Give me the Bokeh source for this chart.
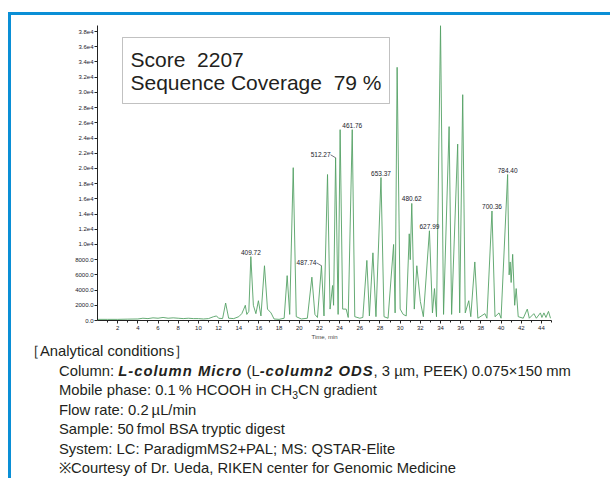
from bokeh.plotting import figure
from bokeh.layouts import column
from bokeh.models import Label, BoxAnnotation, FixedTicker, Range1d, Div
from bokeh.core.properties import value
from bokeh.embed import file_html
from bokeh.resources import INLINE

# ---- chromatogram trace (retention time, intensity) ----
time_min = [0.0, 1.0, 2.0, 3.0, 4.0, 4.5, 5.0, 5.5, 6.0, 6.5, 7.0, 7.5, 8.0, 8.5, 9.0, 9.5,
            10.0, 10.5, 11.0, 11.5, 11.8, 12.0, 12.4, 12.7, 13.0, 13.5, 14.0, 14.3, 14.5,
            14.65, 14.8, 15.0, 15.2, 15.45, 15.7, 15.95, 16.2, 16.55, 16.85, 17.2, 17.5,
            18.0, 18.5, 18.8, 19.05, 19.4, 19.7, 20.2, 20.8, 21.25, 21.55, 21.8, 22.2,
            22.45, 22.8, 23.05, 23.3, 23.4, 23.6, 23.85, 24.05, 24.3, 24.65, 24.85, 25.25,
            25.5, 26.0, 26.3, 26.7, 26.95, 27.3, 27.6, 28.1, 28.4, 28.8, 29.35, 29.5, 29.7,
            30.0, 30.3, 30.6, 30.9, 31.0, 31.15, 31.4, 31.65, 32.0, 32.3, 32.9, 33.2, 33.4,
            33.6, 34.0, 34.3, 34.85, 35.1, 35.7, 35.9, 36.2, 36.45, 36.8, 37.0, 37.4, 37.7,
            38.4, 38.6, 39.1, 39.4, 39.8, 40.0, 40.65, 40.8, 40.9, 41.0, 41.15, 41.35, 41.5,
            41.7, 42.2, 42.6, 42.8, 43.25, 43.5, 43.9, 44.05, 44.25, 44.45, 44.7, 44.9]
intensity = [150, 150, 150, 180, 200, 300, 250, 350, 300, 400, 300, 350, 300, 250, 300, 250,
             250, 200, 250, 500, 600, 300, 250, 2300, 300, 250, 500, 900, 1500,
             2000, 800, 1200, 8400, 2000, 900, 2600, 600, 7200, 1500, 1000, 200,
             150, 300, 5900, 800, 20100, 500, 200, 300, 5700, 800, 400, 7200,
             600, 19200, 1500, 4600, 2000, 21400, 800, 25100, 1500, 1500, 400, 25100,
             500, 300, 400, 7900, 600, 8900, 500, 18800, 500, 300, 10000, 1000, 33300,
             1500, 800, 600, 11400, 8000, 15400, 1500, 7200, 2500, 500, 11800, 1000, 4200,
             500, 38800, 800, 25500, 800, 23200, 1000, 29700, 1000, 2600, 500, 7700, 300,
             900, 300, 14400, 500, 1000, 300, 19200, 6000, 7700, 5000, 8700, 2000, 4200,
             500, 300, 1500, 300, 900, 300, 1000, 400, 1000, 400, 1200, 300]

# ---- annotated peaks (m/z labels) ----
peak_times = [15.2, 22.2, 23.6, 25.25, 28.1, 31.15, 32.9, 39.1, 40.65]
peak_heights = [8400, 7200, 21400, 25100, 18800, 15400, 11800, 14400, 19200]
peak_labels = ["409.72", "487.74", "512.27", "461.76", "653.37", "480.62", "627.99", "700.36", "784.40"]

# ---- axis ticks ----
x_ticks = [2, 4, 6, 8, 10, 12, 14, 16, 18, 20, 22, 24, 26, 28, 30, 32, 34, 36, 38, 40, 42, 44]
x_minor = [1, 3, 5, 7, 9, 11, 13, 15, 17, 19, 21, 23, 25, 27, 29, 31, 33, 35, 37, 39, 41, 43, 45]
y_ticks = [0, 2000, 4000, 6000, 8000, 10000, 12000, 14000, 16000, 18000, 20000, 22000,
           24000, 26000, 28000, 30000, 32000, 34000, 36000, 38000]
y_tick_labels = ["0.0", "2000.0", "4000.0", "6000.0", "8000.0", "1.0e4", "1.2e4", "1.4e4",
                 "1.6e4", "1.8e4", "2.0e4", "2.2e4", "2.4e4", "2.6e4", "2.8e4", "3.0e4",
                 "3.2e4", "3.4e4", "3.6e4", "3.8e4"]

NB = "\u00a0"
score_lines = ["Score" + NB + NB + "2207", "Sequence Coverage" + NB + NB + "79" + NB + "%"]

BI = "<b><i style='letter-spacing:1px'>%s</i></b>"
condition_lines = [
    "［Analytical conditions］",
    "Column: " + BI % "L-column Micro" + " (L" + BI % "-column2 ODS"
    + ", 3 µm, PEEK) 0.075×150 mm",
    "Mobile phase: 0.1&#8201;% HCOOH in CH<sub style='font-size:70%;line-height:0'>3</sub>CN gradient",
    "Flow rate: 0.2&#8201;µL/min",
    "Sample: 50&#8201;fmol BSA tryptic digest",
    "System: LC: ParadigmMS2+PAL; MS: QSTAR-Elite",
    "※Courtesy of Dr. Ueda, RIKEN center for Genomic Medicine",
]

# ---- layout geometry (page pixels) ----
OX, OY = 11, 15            # content origin inside the blue frame
CW = 599                   # content width
CH_H = 327                 # chart figure height
TX_H = 136                 # text block height
F_LEFT, F_TOP, F_W, F_H = 97, 25, 454, 295  # plot frame in page px

TICK_FONT = "Liberation Sans"
TXT_FONT = "Liberation Sans"
TXT_COLOR = "#231f20"

p = figure(width=CW, height=CH_H, output_backend="svg", toolbar_location=None,
           x_range=Range1d(0, 45), y_range=Range1d(0, 38800),
           min_border_left=F_LEFT - OX, min_border_right=CW - (F_LEFT - OX) - F_W,
           min_border_top=F_TOP - OY, min_border_bottom=CH_H - (F_TOP - OY) - F_H)
p.outline_line_color = None
p.xgrid.visible = False
p.ygrid.visible = False
p.background_fill_color = "white"
p.border_fill_color = "white"

for ax in (p.xaxis[0], p.yaxis[0]):
    ax.axis_line_color = "#222222"
    ax.major_tick_line_color = "#222222"
    ax.minor_tick_line_color = "#222222"
    ax.major_tick_in = 0
    ax.major_tick_out = 3
    ax.minor_tick_in = 0
    ax.minor_tick_out = 2
    ax.major_label_text_font = TICK_FONT
    ax.major_label_text_font_size = "6px"
    ax.major_label_text_color = "#1a1a2a"

p.xaxis.ticker = FixedTicker(ticks=x_ticks, minor_ticks=x_minor)
p.yaxis.ticker = FixedTicker(ticks=y_ticks, minor_ticks=[])
p.yaxis.major_label_overrides = {t: l for t, l in zip(y_ticks, y_tick_labels)}
p.yaxis.major_label_standoff = 1
p.xaxis.major_label_standoff = 2
p.xaxis.axis_label = "Time, min"
p.xaxis.axis_label_text_font = TICK_FONT
p.xaxis.axis_label_text_font_size = "6px"
p.xaxis.axis_label_text_font_style = "normal"
p.xaxis.axis_label_standoff = 1

p.line(time_min, intensity, line_color="#55a265", line_width=0.9)

# peak labels
px_per_min = F_W / 45.0
units_per_px = 38800 / F_H
for tm, h, lab in zip(peak_times, peak_heights, peak_labels):
    if lab in ("487.74", "512.27"):
        p.text([tm], [h], text=[lab], text_align="right", text_baseline="middle",
               x_offset=-5, y_offset=-3, text_font=value(TICK_FONT), text_font_size="6.5px",
               text_color="#1a1a2a")
        p.segment([tm - 5 / px_per_min], [h + 3 * units_per_px], [tm], [h],
                  line_color="#1a1a2a", line_width=0.6)
    else:
        p.text([tm], [h], text=[lab], text_align="center", text_baseline="bottom",
               y_offset=-2, text_font=value(TICK_FONT), text_font_size="6.5px",
               text_color="#1a1a2a")

# frame-relative screen units for the chart
def csx(page_x):
    return page_x - F_LEFT

def csy(page_y):
    return (F_TOP + F_H) - page_y

p.add_layout(BoxAnnotation(left=csx(122), right=csx(389), top=csy(37), bottom=csy(103),
                           left_units="screen", right_units="screen",
                           top_units="screen", bottom_units="screen",
                           fill_color=None, line_color="#333333", line_width=1,
                           level="underlay"))
p.add_layout(Label(x=csx(130), y=csy(70), x_units="screen", y_units="screen",
                   text=score_lines[0], text_font=TXT_FONT, text_font_size="21px",
                   text_color=TXT_COLOR, level="overlay"))
p.add_layout(Label(x=csx(130), y=csy(93), x_units="screen", y_units="screen",
                   text=score_lines[1], text_font=TXT_FONT, text_font_size="21px",
                   text_color=TXT_COLOR, level="overlay"))

# ---- conditions text block ----
line_divs = []
for i, s in enumerate(condition_lines):
    pad = 14 if i == 0 else 48
    line_divs.append("<div style='padding-left:%dpx;height:19.5px'>%s</div>" % (pad, s))
html = ("<div style=\"font-family:'Liberation Sans',Arial,sans-serif;font-size:14.8px;"
        "line-height:19.5px;color:%s;white-space:nowrap;\">%s</div>" % (TXT_COLOR, "".join(line_divs)))
notes = Div(text=html, width=CW, height=TX_H, styles={"overflow": "hidden", "margin": "0"})

layout = column(p, notes, spacing=0,
                styles={"margin-left": "8px", "margin-top": "12px",
                        "border-top": "3px solid #0a8fd6",
                        "border-left": "3px solid #0a8fd6",
                        "background-color": "white"})

open("out.html", "w").write(file_html(layout, INLINE))
